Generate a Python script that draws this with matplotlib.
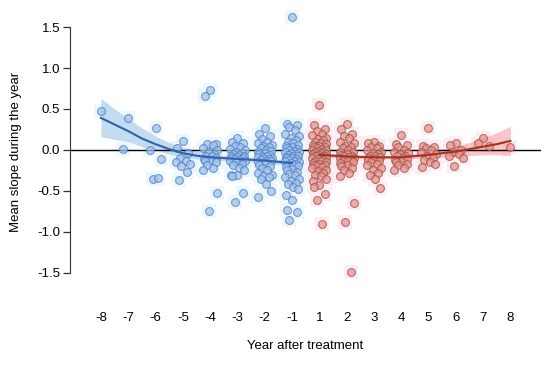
import numpy as np
import matplotlib
matplotlib.use("Agg")
import matplotlib.pyplot as plt

plt.rcParams['font.family'] = ['Liberation Sans', 'DejaVu Sans']

# years shown on the x axis (no year 0)
years = [-8, -7, -6, -5, -4, -3, -2, -1, 1, 2, 3, 4, 5, 6, 7, 8]

# mean slope per unit, one list per year
slopes = {
    -8: [0.48],
    -7: [0.39, 0.01],
    -6: [0.27, 0.0, -0.11, -0.35, -0.34],
    -5: [0.11, 0.02, -0.04, -0.1, -0.13, -0.15, -0.17, -0.2, -0.27, -0.37],
    -4: [0.73, 0.66, 0.07, 0.07, 0.06, 0.02, 0.0, -0.02, -0.05, -0.07, -0.08,
         -0.1, -0.11, -0.12, -0.13, -0.15, -0.18, -0.22, -0.25, -0.53, -0.74],
    -3: [0.14, 0.1, 0.08, 0.05, 0.03, 0.01, 0.0, -0.02, -0.04, -0.05, -0.06,
         -0.07, -0.08, -0.09, -0.1, -0.1, -0.11, -0.12, -0.13, -0.14, -0.15,
         -0.17, -0.19, -0.22, -0.25, -0.3, -0.31, -0.32, -0.53, -0.64],
    -2: [0.27, 0.2, 0.17, 0.13, 0.1, 0.08, 0.06, 0.05, 0.03, 0.02, 0.0, -0.01,
         -0.03, -0.04, -0.05, -0.06, -0.07, -0.08, -0.09, -0.1, -0.1, -0.11,
         -0.12, -0.13, -0.14, -0.15, -0.16, -0.18, -0.2, -0.22, -0.25, -0.28,
         -0.3, -0.32, -0.33, -0.35, -0.42, -0.5, -0.57],
    -1: [1.62, 0.32, 0.3, 0.28, 0.24, 0.2, 0.17, 0.15, 0.12, 0.1, 0.08, 0.06,
         0.05, 0.04, 0.02, 0.01, 0.0, -0.01, -0.02, -0.03, -0.04, -0.05, -0.06,
         -0.07, -0.08, -0.09, -0.1, -0.1, -0.11, -0.12, -0.13, -0.14, -0.15,
         -0.16, -0.17, -0.18, -0.19, -0.2, -0.21, -0.23, -0.25, -0.27, -0.29,
         -0.31, -0.33, -0.35, -0.38, -0.4, -0.42, -0.45, -0.48, -0.55, -0.61,
         -0.73, -0.76, -0.86],
    1: [0.55, 0.3, 0.25, 0.23, 0.2, 0.18, 0.15, 0.13, 0.12, 0.1, 0.08, 0.07,
        0.06, 0.05, 0.04, 0.03, 0.02, 0.01, 0.0, 0.0, -0.01, -0.02, -0.03,
        -0.04, -0.05, -0.05, -0.06, -0.07, -0.08, -0.08, -0.09, -0.1, -0.1,
        -0.11, -0.12, -0.13, -0.14, -0.15, -0.16, -0.17, -0.18, -0.19, -0.2,
        -0.21, -0.22, -0.24, -0.26, -0.28, -0.3, -0.32, -0.35, -0.38, -0.43,
        -0.45, -0.54, -0.61, -0.91],
    2: [0.32, 0.26, 0.2, 0.17, 0.14, 0.1, 0.08, 0.05, 0.03, 0.02, 0.0, -0.02,
        -0.03, -0.05, -0.06, -0.07, -0.08, -0.09, -0.1, -0.1, -0.11, -0.12,
        -0.13, -0.14, -0.15, -0.16, -0.18, -0.2, -0.22, -0.25, -0.28, -0.32,
        -0.65, -0.88, -1.49],
    3: [0.1, 0.08, 0.05, 0.04, 0.02, 0.0, -0.02, -0.04, -0.05, -0.07, -0.08,
        -0.09, -0.1, -0.11, -0.12, -0.13, -0.15, -0.17, -0.19, -0.22, -0.25,
        -0.28, -0.3, -0.36, -0.46],
    4: [0.18, 0.07, 0.06, 0.03, 0.0, -0.02, -0.04, -0.05, -0.07, -0.08, -0.1,
        -0.11, -0.12, -0.13, -0.15, -0.17, -0.19, -0.22, -0.24],
    5: [0.27, 0.05, 0.03, 0.02, 0.0, -0.03, -0.05, -0.07, -0.1, -0.12, -0.15,
        -0.17, -0.21],
    6: [0.08, 0.06, 0.0, -0.02, -0.05, -0.08, -0.1, -0.2],
    7: [0.14, 0.09, 0.05],
    8: [0.04],
}

# fitted curves with confidence band
pre_years = [-8, -7.5, -7, -6.5, -6, -5.5, -5, -4.5, -4, -3, -2, -1]
pre_fit = [0.39, 0.31, 0.23, 0.14, 0.07, 0.01, -0.04, -0.07, -0.09, -0.11, -0.13, -0.16]
pre_hi = [0.63, 0.5, 0.38, 0.27, 0.17, 0.09, 0.03, -0.01, -0.05, -0.08, -0.1, -0.13]
pre_lo = [0.16, 0.13, 0.1, 0.04, 0.0, -0.05, -0.09, -0.11, -0.12, -0.14, -0.16, -0.19]

post_years = [1, 2, 3, 4, 5, 6, 6.5, 7, 7.5, 8]
post_fit = [-0.06, -0.08, -0.09, -0.09, -0.06, -0.02, 0.01, 0.04, 0.07, 0.11]
post_hi = [-0.03, -0.06, -0.07, -0.07, -0.02, 0.04, 0.09, 0.15, 0.21, 0.29]
post_lo = [-0.09, -0.1, -0.11, -0.11, -0.1, -0.08, -0.07, -0.06, -0.06, -0.07]


def pos(y):
    # categorical position on the axis, year 0 is skipped
    y = np.asarray(y, dtype=float)
    return np.where(y < 0, y + 8, y + 7)


jit = np.array([0, -0.2, 0.2, -0.1, 0.1, -0.26, 0.26, -0.05, 0.15, -0.15, 0.05, 0.23, -0.23])

fig = plt.figure(figsize=(5.5, 3.65), dpi=100)
ax = fig.add_axes([0.127, 0.192, 0.857, 0.781])

for yr in years:
    vals = np.array(slopes[yr])
    xs = pos(yr) + np.resize(jit, len(vals))
    if yr < 0:
        halo, face, edge = '#ecf8fc', '#a2c2ea', '#4f80c8'
    else:
        halo, face, edge = '#fdedf3', '#f29090', '#8e5a46'
    ax.scatter(xs, vals, s=110, marker='s', color=halo, linewidths=0, zorder=1)
    ax.scatter(xs, vals, s=32, facecolor=face, edgecolor=edge, linewidths=0.8,
               alpha=0.75, zorder=3)

ax.fill_between(pos(pre_years), pre_lo, pre_hi, color='#9ec6e6', alpha=0.6,
                linewidth=0, zorder=2)
ax.plot(pos(pre_years), pre_fit, color='#2f63ad', lw=1.5, zorder=4)
ax.fill_between(pos(post_years), post_lo, post_hi, color='#f2a0a4', alpha=0.6,
                linewidth=0, zorder=2)
ax.plot(pos(post_years), post_fit, color='#a8321e', lw=1.5, zorder=4)

ax.axhline(0, color='black', lw=1, zorder=2.5)

ax.set_xlim(-1.14, 16.13)
ax.set_ylim(-1.77, 1.71)
ax.set_xticks(pos(years))
ax.set_xticklabels([str(y) for y in years])
ax.set_yticks([-1.5, -1.0, -0.5, 0.0, 0.5, 1.0, 1.5])
ax.set_yticklabels(['-1.5', '-1.0', '-0.5', '0.0', '0.5', '1.0', '1.5'])

for s in ['top', 'right', 'bottom']:
    ax.spines[s].set_visible(False)
ax.spines['left'].set_bounds(-1.5, 1.5)
ax.spines['left'].set_color('#333333')
ax.tick_params(axis='x', length=0, pad=12, labelsize=9.5)
ax.tick_params(axis='y', length=5, width=0.9, color='#333333', labelsize=9.5, pad=2)

ax.set_xlabel('Year after treatment', fontsize=9.5, labelpad=12)
ax.set_ylabel('Mean slope during the year', fontsize=9.5, labelpad=11)

fig.savefig('out.png', dpi=100)
